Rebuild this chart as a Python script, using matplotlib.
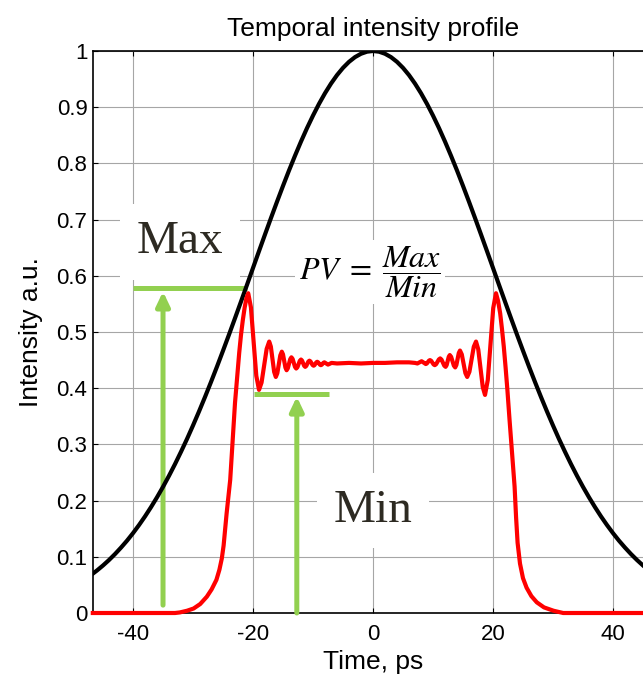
import matplotlib
matplotlib.use("Agg")
import matplotlib.pyplot as plt

# black gaussian reference pulse (1 ps steps)
black_t = list(range(-48, 49))
black_half = [1.000, 0.9988, 0.9951, 0.9891, 0.9807, 0.9700, 0.9571, 0.9420, 0.9249,
              0.9059, 0.8851, 0.8628, 0.8389, 0.8137, 0.7874, 0.7600, 0.7318, 0.7030,
              0.6736, 0.6439, 0.6140, 0.5840, 0.5542, 0.5246, 0.4954, 0.4667, 0.4385,
              0.4111, 0.3844, 0.3586, 0.3337, 0.3097, 0.2869, 0.2650, 0.2442, 0.2245,
              0.2059, 0.1884, 0.1719, 0.1565, 0.1421, 0.1287, 0.1164, 0.1049, 0.0943,
              0.0846, 0.0757, 0.0676, 0.0602]
black_i = black_half[:0:-1] + black_half

# red flat-top pulse with ripples
red_t = [-46.7, -33.0, -32.2, -31.0, -29.9, -28.8, -27.7, -26.9, -26.1, -25.6, -25.2,
         -24.9, -24.4, -23.8, -23.4, -23.0, -22.6, -22.3, -22.0, -21.7, -21.4, -21.1,
         -20.8, -20.35, -19.9, -19.45, -19.0, -18.575, -18.15, -17.725, -17.3, -17.025,
         -16.75, -16.475, -16.2, -15.95, -15.7, -15.45, -15.2, -15.0, -14.8, -14.6,
         -14.4, -14.2, -14.0, -13.8, -13.6, -13.4, -13.2, -13.0, -12.8, -12.6, -12.4,
         -12.2, -12.0, -11.825, -11.65, -11.475, -11.3, -11.125, -10.95, -10.775, -10.6,
         -10.425, -10.25, -10.075, -9.9, -9.75, -9.6, -9.45, -9.3, -9.15, -9.0, -8.85,
         -8.7, -8.55, -8.4, -8.25, -8.1, -7.8, -7.5, -7.2, -6.9, -6.0, -4.0, -2.0, 0.0,
         2.0, 4.0, 6.0, 7.0, 7.4, 7.75, 8.1, 8.45, 8.8, 8.975, 9.15, 9.325, 9.5, 9.7,
         9.9, 10.1, 10.3, 10.525, 10.75, 10.975, 11.2, 11.425, 11.65, 11.875, 12.1,
         12.275, 12.45, 12.625, 12.8, 13.025, 13.25, 13.475, 13.7, 13.9, 14.1, 14.3,
         14.5, 14.8, 15.1, 15.4, 15.7, 16.07, 16.44, 16.8, 17.17, 17.545, 17.92, 18.295,
         18.67, 19.13, 19.59, 20.04, 20.5, 20.85, 21.2, 21.5, 21.8, 22.1, 22.4, 22.75,
         23.1, 23.35, 23.6, 23.85, 24.1, 24.5, 25.0, 25.6, 26.4, 27.3, 28.5, 30.1, 31.7,
         46.7]
red_i = [0.0, 0.0, 0.001, 0.004, 0.008, 0.016, 0.029, 0.042, 0.059, 0.077, 0.097,
         0.12, 0.177, 0.237, 0.305, 0.374, 0.425, 0.463, 0.495, 0.521, 0.543, 0.560,
         0.569, 0.544, 0.483, 0.422, 0.397, 0.410, 0.440, 0.470, 0.483, 0.474,
         0.4515, 0.429, 0.420, 0.4266, 0.4425, 0.4584, 0.465, 0.4602, 0.4485, 0.4368,
         0.432, 0.4354, 0.4435, 0.4516, 0.455, 0.4521, 0.445, 0.4379, 0.435, 0.4373,
         0.443, 0.4487, 0.451, 0.4491, 0.4445, 0.4399, 0.438, 0.4396, 0.4435, 0.4474,
         0.449, 0.4477, 0.4445, 0.4413, 0.440, 0.441, 0.4435, 0.446, 0.447, 0.4461,
         0.444, 0.4419, 0.441, 0.4417, 0.4435, 0.4453, 0.446, 0.444, 0.442, 0.4435,
         0.445, 0.444, 0.445, 0.444, 0.445, 0.445, 0.446, 0.446, 0.445, 0.444, 0.446,
         0.448, 0.4455, 0.443, 0.444, 0.4465, 0.449, 0.450, 0.4487, 0.4455, 0.4423,
         0.441, 0.4428, 0.447, 0.4512, 0.453, 0.4508, 0.4455, 0.4402, 0.438, 0.4411,
         0.4485, 0.4559, 0.459, 0.4558, 0.448, 0.4402, 0.437, 0.4414, 0.452, 0.4626,
         0.467, 0.4601, 0.4435, 0.4269, 0.420, 0.4292, 0.4515, 0.4738, 0.483, 0.4691,
         0.4355, 0.4019, 0.388, 0.4144, 0.4785, 0.5426, 0.569, 0.555, 0.533, 0.505,
         0.474, 0.437, 0.397, 0.345, 0.296, 0.260, 0.225, 0.170, 0.125, 0.088, 0.062,
         0.045, 0.030, 0.019, 0.010, 0.004, 0.0, 0.0]

x_ticks = [-40, -20, 0, 20, 40]
x_labels = ["-40", "-20", "0", "20", "40"]
y_ticks = [0, 0.1, 0.2, 0.3, 0.4, 0.5, 0.6, 0.7, 0.8, 0.9, 1]
y_labels = ["0", "0.1", "0.2", "0.3", "0.4", "0.5", "0.6", "0.7", "0.8", "0.9", "1"]

# Max / Min markers: (x, bottom, tip) of arrows and (x0, x1, y) of the levels
max_arrow = (-35.0, 0.014, 0.572)
max_level = (-40.0, -21.0, 0.578)
min_arrow = (-12.7, 0.0, 0.385)
min_level = (-19.8, -7.3, 0.39)

GREEN = "#92d050"
TXT = "#2d2a22"

plt.rcParams["font.family"] = ["Liberation Sans", "DejaVu Sans"]
plt.rcParams["mathtext.fontset"] = "stix"

fig = plt.figure(figsize=(6.43, 6.78), dpi=100)
ax = fig.add_axes([93 / 643, 65 / 678, 560 / 643, 562 / 678])

ax.plot(black_t, black_i, color="black", lw=3.0, zorder=3)
ax.plot(red_t, red_i, color="red", lw=3.0, zorder=4, clip_on=False,
        solid_joinstyle="round")

for (x0, x1, y) in (max_level, min_level):
    ax.plot([x0, x1], [y, y], color=GREEN, lw=3.6, zorder=2.6, solid_capstyle="butt")
for (x, y0, y1) in (max_arrow, min_arrow):
    ax.annotate("", xy=(x, y1), xytext=(x, y0),
                arrowprops=dict(arrowstyle="-|>,head_length=0.42,head_width=0.2",
                                color=GREEN, lw=3.6, shrinkA=0, shrinkB=0,
                                mutation_scale=20),
                zorder=2.6)

box = dict(facecolor="white", edgecolor="none", pad=12)
ax.text(-32.2, 0.640, "Max", family="Liberation Serif", fontsize=34, color=TXT,
        ha="center", va="baseline", bbox=box, zorder=1)
ax.text(0.0, 0.162, "Min", family="Liberation Serif", fontsize=34, color=TXT,
        ha="center", va="baseline", bbox=box, zorder=1)
ax.text(-0.5, 0.607, r"$PV\;=\;\dfrac{Max}{Min}$", fontsize=23, color="black",
        ha="center", va="center", bbox=dict(facecolor="white", edgecolor="none", pad=3),
        zorder=1)

ax.set_xlim(-46.67, 46.67)
ax.set_ylim(0, 1)
ax.set_xticks(x_ticks)
ax.set_xticklabels(x_labels)
ax.set_yticks(y_ticks)
ax.set_yticklabels(y_labels)
ax.tick_params(direction="in", top=True, right=True, length=3.5, width=0.8,
               labelsize=16, pad=4)
ax.tick_params(axis="x", pad=8)
ax.set_axisbelow(True)
ax.grid(True, color="#a6a6a6", lw=0.8)
for s in ax.spines.values():
    s.set_linewidth(1.2)

ax.set_xlabel("Time, ps", fontsize=19, labelpad=3.5)
ax.set_ylabel("Intensity a.u.", fontsize=19, labelpad=10)
ax.set_title("Temporal intensity profile", fontsize=19, pad=11)

fig.savefig("out.png", dpi=100)
